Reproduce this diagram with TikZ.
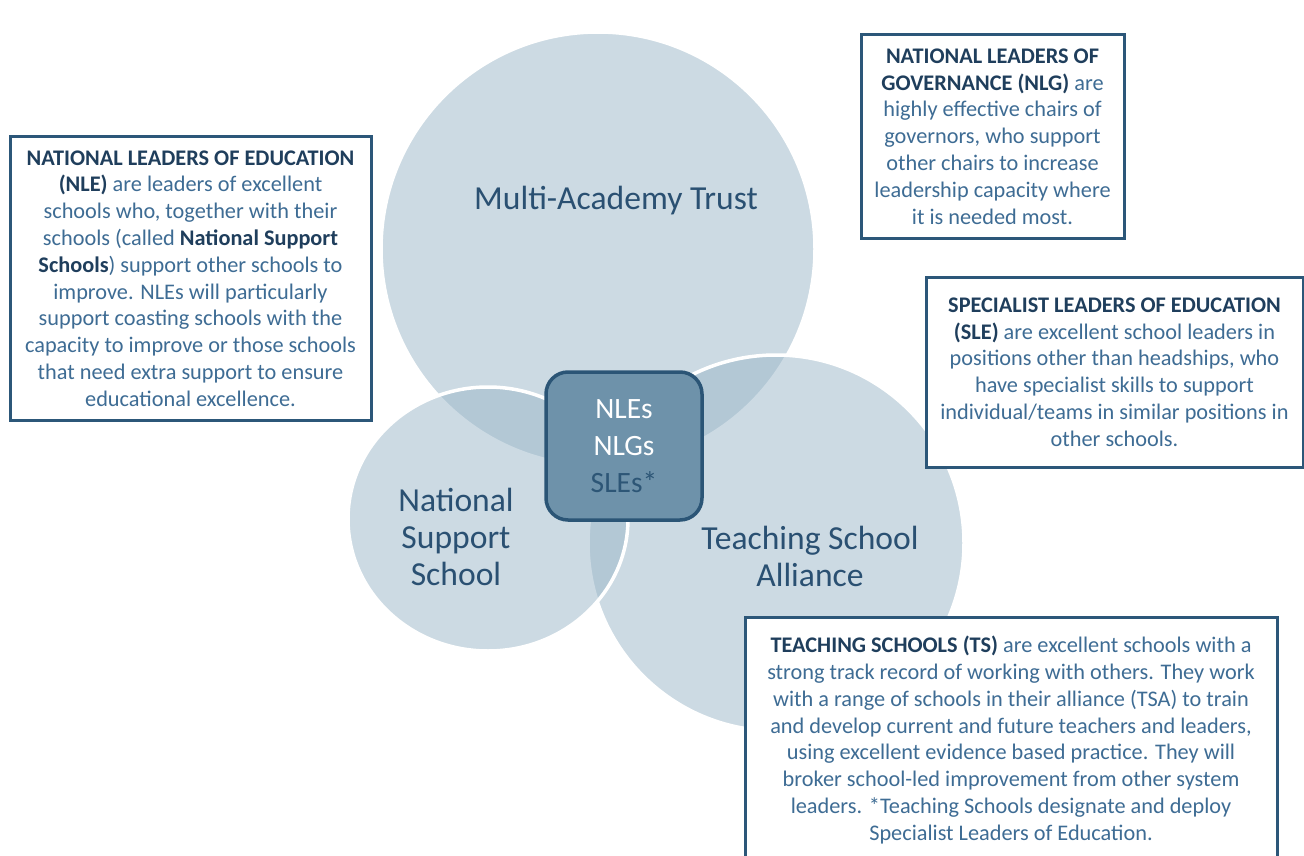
\documentclass[tikz,border=0pt]{standalone}
\usepackage{fontspec}
\setmainfont{Carlito}
\usetikzlibrary{shapes.geometric}
\definecolor{circfill}{RGB}{155,183,201}
\definecolor{boxline}{RGB}{44,87,121}
\definecolor{boldtext}{RGB}{31,62,92}
\definecolor{bodytext}{RGB}{62,108,148}
\definecolor{circtext}{RGB}{42,80,114}
\definecolor{corefill}{RGB}{110,146,170}
\definecolor{coreline}{RGB}{43,85,118}
\definecolor{coredark}{RGB}{45,86,118}
\begin{document}
\begin{tikzpicture}[x=1pt,y=-1pt,
  circ/.style={fill=circfill, fill opacity=0.5, draw=white, line width=3.5pt, inner sep=0pt},
  infobox/.style={draw=boxline, line width=3pt, fill=white, inner sep=0pt, align=center,
    text=bodytext, font=\fontsize{22.3}{26.8}\selectfont},
  circlabel/.style={text=circtext, align=center, inner sep=0pt, font=\fontsize{33.6}{37}\selectfont},
  corebox/.style={fill=corefill, draw=coreline, line width=3.5pt, rounded corners=22pt,
    align=center, inner sep=0pt, font=\fontsize{29.5}{37}\selectfont}
]
\useasboundingbox (0,0) rectangle (1304,856);
\fill[white] (0,0) rectangle (1304,856);
% circles
\node[circ, circle, minimum size=434pt] (mat) at (598,249) {};
\node[circ, circle, minimum size=376pt] (tsa) at (776,543) {};
\node[circ, ellipse, minimum width=280pt, minimum height=264pt] (nss) at (488,519) {};
% circle labels
\node[circlabel] (matl) at (616,201) {Multi-Academy Trust};
\node[circlabel] (nssl) at (456,537) {National\\Support\\School};
\node[circlabel] (tsal) at (810,556) {Teaching School\\Alliance};
% centre
\node[corebox, minimum width=156pt, minimum height=148pt] (core) at (624,446)
  {\textcolor{white}{NLEs}\\\textcolor{white}{NLGs}\\\textcolor{coredark}{SLEs*}};
% info boxes
\node[infobox, minimum width=361pt, minimum height=283pt] (nle) at (190.5,278.5)
  {\textbf{\textcolor{boldtext}{NATIONAL LEADERS OF EDUCATION}}\\
   \textbf{\textcolor{boldtext}{(NLE)}} are leaders of excellent\\
   schools who, together with their\\
   schools (called \textbf{\textcolor{boldtext}{National Support}}\\
   \textbf{\textcolor{boldtext}{Schools}}) support other schools to\\
   improve. NLEs will particularly\\
   support coasting schools with the\\
   capacity to improve or those schools\\
   that need extra support to ensure\\
   educational excellence.};
\node[infobox, minimum width=263pt, minimum height=203pt] (nlg) at (992.5,136.5)
  {\textbf{\textcolor{boldtext}{NATIONAL LEADERS OF}}\\
   \textbf{\textcolor{boldtext}{GOVERNANCE (NLG)}} are\\
   highly effective chairs of\\
   governors, who support\\
   other chairs to increase\\
   leadership capacity where\\
   it is needed most.};
\node[infobox, minimum width=377pt, minimum height=190pt] (sle) at (1114.5,372)
  {\textbf{\textcolor{boldtext}{SPECIALIST LEADERS OF EDUCATION}}\\
   \textbf{\textcolor{boldtext}{(SLE)}} are excellent school leaders in\\
   positions other than headships, who\\
   have specialist skills to support\\
   individual/teams in similar positions in\\
   other schools.};
\node[infobox, minimum width=532pt, minimum height=246pt] (ts) at (1011,740)
  {\textbf{\textcolor{boldtext}{TEACHING SCHOOLS (TS)}} are excellent schools with a\\
   strong track record of working with others. They work\\
   with a range of schools in their alliance (TSA) to train\\
   and develop current and future teachers and leaders,\\
   using excellent evidence based practice. They will\\
   broker school-led improvement from other system\\
   leaders. *Teaching Schools designate and deploy\\
   Specialist Leaders of Education.};
\end{tikzpicture}
\end{document}
